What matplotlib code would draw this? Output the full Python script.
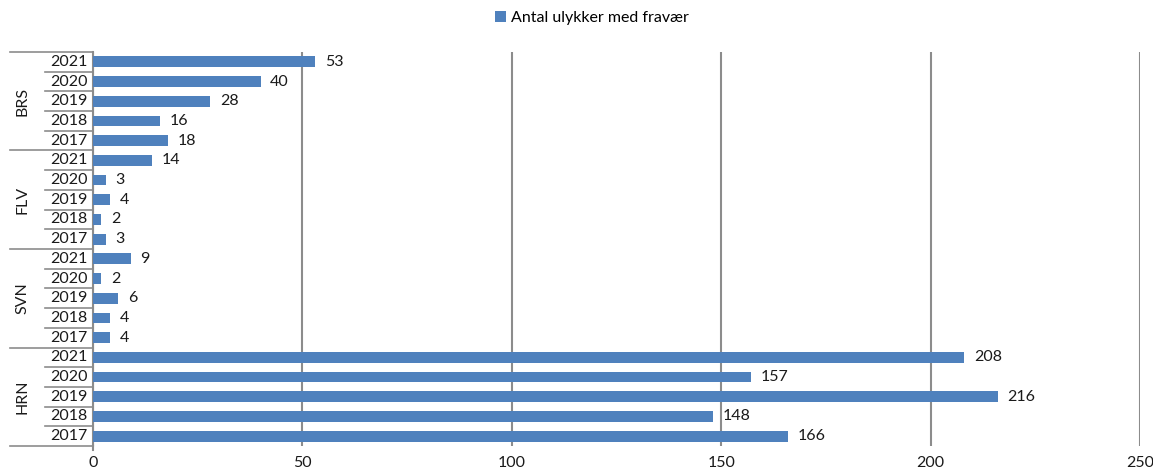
import numpy as np
import matplotlib
matplotlib.use("Agg")
import matplotlib.pyplot as plt

plt.rcParams['font.family'] = ['Lato', 'DejaVu Sans']

groups = ["BRS", "FLV", "SVN", "HRN"]
years = ["2021", "2020", "2019", "2018", "2017"]
brs = [53, 40, 28, 16, 18]
flv = [14, 3, 4, 2, 3]
svn = [9, 2, 6, 4, 4]
hrn = [208, 157, 216, 148, 166]
series_name = "Antal ulykker med fravær"
x_ticks = [0, 50, 100, 150, 200, 250]

values = brs + flv + svn + hrn
n = len(values)
ypos = np.arange(n)

bar_color = "#4F81BD"
line_color = "#8C8C8C"
text_color = "#1a1a1a"

fig = plt.figure(figsize=(11.53, 4.72), dpi=100)
W, H = 1153, 472
ax = fig.add_axes([93 / W, 1 - 446 / H, (1140 - 93) / W, (446 - 52) / H])

ax.barh(ypos, values, height=0.55, color=bar_color, label=series_name, zorder=3)
ax.set_ylim(n - 0.5, -0.5)
ax.set_xlim(0, 250)

for y, v in zip(ypos, values):
    ax.annotate(str(v), (v, y), xytext=(7, 0), textcoords="offset points",
                va="center", ha="left", fontsize=11.5, color=text_color)

ax.set_xticks(x_ticks)
ax.set_xticklabels([str(t) for t in x_ticks], fontsize=11.5, color=text_color)
ax.tick_params(axis="x", length=0, pad=7)
ax.set_yticks([])
for s in ["top", "right", "bottom"]:
    ax.spines[s].set_visible(False)
ax.spines["left"].set_color(line_color)
ax.spines["left"].set_linewidth(1.5)
ax.grid(axis="x", color=line_color, linewidth=1.5, zorder=0)
ax.set_axisbelow(True)

# Two-level category labels on the left
trans = ax.get_yaxis_transform()
px = 1.0 / (1140 - 93)
x_year_left = -(93 - 45) * px
x_group_left = -(93 - 10) * px
x_year_center = -(93 - 69) * px
x_group_center = -(93 - 22) * px

for i in range(n + 1):
    yb = i - 0.5
    left = x_group_left if i % len(years) == 0 else x_year_left
    ax.plot([left, 0], [yb, yb], transform=trans, color=line_color,
            linewidth=1.2, clip_on=False)

for i, y in enumerate(ypos):
    ax.text(x_year_center, y, years[i % len(years)], transform=trans,
            ha="center", va="center", fontsize=11.5, color=text_color)

for g, name in enumerate(groups):
    yc = g * len(years) + (len(years) - 1) / 2
    ax.text(x_group_center, yc, name, transform=trans, rotation=90,
            ha="center", va="center", fontsize=11.5, color=text_color)

# small tick below the zero axis line
ax.plot([0, 0], [n - 0.5, n - 0.3], color=line_color, linewidth=1.5, clip_on=False)

fig.legend(loc="center", bbox_to_anchor=(592 / W, 1 - 18 / H), frameon=False,
           fontsize=11.5, handlelength=0.7, handleheight=0.7, handletextpad=0.3)

fig.savefig("out.png", dpi=100)
